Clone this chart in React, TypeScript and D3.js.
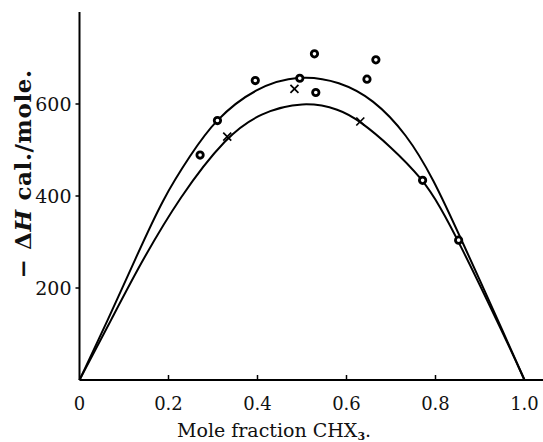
import * as d3 from 'd3';

// readings
const circleX = [0.271, 0.31, 0.395, 0.495, 0.528, 0.531, 0.646, 0.666, 0.771, 0.852];
const circleY = [489, 564, 651, 656, 709, 625, 654, 696, 434, 304];
const crossX = [0.332, 0.483, 0.631];
const crossY = [529, 633, 562];

const upperX = [0, 0.065, 0.125, 0.188, 0.25, 0.304, 0.395, 0.496, 0.585, 0.66, 0.735, 0.795, 0.855, 0.96, 1];
const upperY = [0, 133, 262, 396, 490, 565, 636, 664, 649, 611, 535, 438, 312, 88, 0];
const lowerX = [0, 0.072, 0.135, 0.226, 0.331, 0.406, 0.503, 0.585, 0.63, 0.698, 0.773, 0.81, 0.851, 0.96, 1];
const lowerY = [0, 132, 250, 400, 531, 581, 606, 589, 563, 509, 435, 377, 304, 85, 0];

const xTicks = [0, 0.2, 0.4, 0.6, 0.8, 1.0];
const xTickLabels = ['0', '0.2', '0.4', '0.6', '0.8', '1.0'];
const yTicks = [200, 400, 600];

const width = 543;
const height = 442;
const margin = { top: 12, left: 79.5, bottom: 62 };

export default function App() {
  const x = d3.scaleLinear().domain([0, 1]).range([margin.left, margin.left + 445]);
  const y = d3.scaleLinear().domain([0, 800]).range([height - margin.bottom, margin.top]);

  const line = d3
    .line<[number, number]>()
    .x((d) => x(d[0]))
    .y((d) => y(d[1]))
    .curve(d3.curveBasis);

  const upper = upperX.map((v, i) => [v, upperY[i]] as [number, number]);
  const lower = lowerX.map((v, i) => [v, lowerY[i]] as [number, number]);

  const font = '"DejaVu Serif", serif';

  return (
    <svg
      width={width}
      height={height}
      style={{ position: 'absolute', left: 0, top: 0, background: '#fff' }}
    >
      {/* axes */}
      <line x1={x(0)} x2={width} y1={y(0)} y2={y(0)} stroke="#000" strokeWidth={2} />
      <line x1={x(0)} x2={x(0)} y1={y(0)} y2={y(800)} stroke="#000" strokeWidth={2} />

      {xTicks.map((t, i) => (
        <g key={'xt' + i}>
          {t > 0 && t < 1 && (
            <line x1={x(t)} x2={x(t)} y1={y(0)} y2={y(0) - 5} stroke="#000" strokeWidth={1.5} />
          )}
          <text
            x={x(t)}
            y={y(0) + 30}
            textAnchor="middle"
            fontFamily={font}
            fontSize={18}
            fill="#111"
          >
            {xTickLabels[i]}
          </text>
        </g>
      ))}

      {yTicks.map((t) => (
        <g key={'yt' + t}>
          <line x1={x(0) - 4} x2={x(0)} y1={y(t)} y2={y(t)} stroke="#000" strokeWidth={1.5} />
          <text
            x={x(0) - 8}
            y={y(t)}
            dy="0.36em"
            textAnchor="end"
            fontFamily={font}
            fontSize={19}
            fill="#111"
          >
            {t}
          </text>
        </g>
      ))}

      <text x={177} y={437} fontFamily={font} fontSize={19} fill="#111">
        Mole fraction CHX
        <tspan fontSize={11} dy={3} fontWeight="bold">3</tspan>
        <tspan dy={-3}>.</tspan>
      </text>

      <text
        transform={`translate(31,${y(448)}) rotate(-90)`}
        textAnchor="middle"
        fontFamily={font}
        fontSize={23}
        fontWeight="bold"
        letterSpacing={0.6}
        fill="#111"
      >
        − Δ<tspan fontStyle="italic">H</tspan> cal./mole.
      </text>

      {/* curves */}
      <path d={line(upper) ?? ''} fill="none" stroke="#000" strokeWidth={2} />
      <path d={line(lower) ?? ''} fill="none" stroke="#000" strokeWidth={2} />

      {/* points */}
      {circleX.map((v, i) => (
        <circle
          key={'c' + i}
          cx={x(v)}
          cy={y(circleY[i])}
          r={3.2}
          fill="#fff"
          stroke="#000"
          strokeWidth={2.8}
        />
      ))}
      {crossX.map((v, i) => (
        <path
          key={'x' + i}
          d={`M${x(v) - 4},${y(crossY[i]) - 4}L${x(v) + 4},${y(crossY[i]) + 4}M${x(v) - 4},${y(crossY[i]) + 4}L${x(v) + 4},${y(crossY[i]) - 4}`}
          stroke="#000"
          strokeWidth={1.7}
        />
      ))}
    </svg>
  );
}
